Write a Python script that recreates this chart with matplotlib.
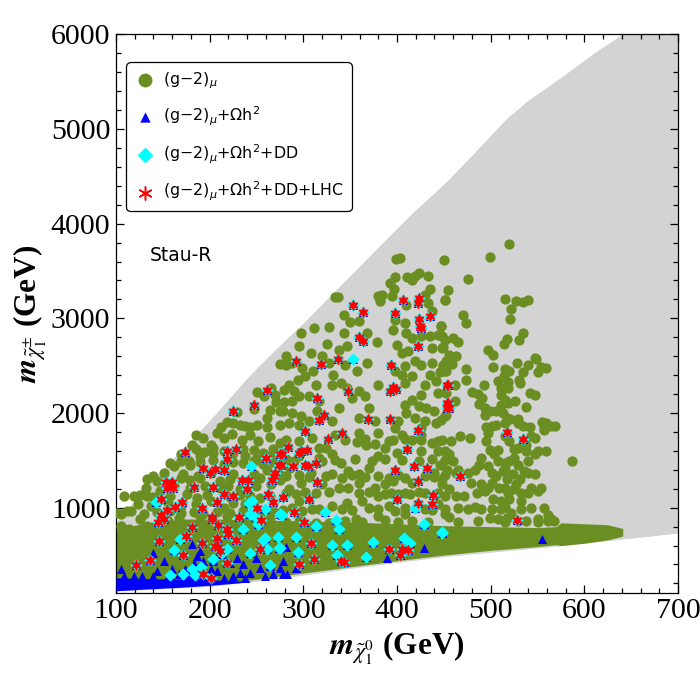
import numpy as np
import matplotlib
matplotlib.use("Agg")
import matplotlib.pyplot as plt
from matplotlib.ticker import MultipleLocator

# ── colours ───────────────────────────────────────────────
C_GRAY  = "#d3d3d3"
C_GREEN = "#6b8e23"
C_BLUE  = "#0000ff"
C_CYAN  = "#00ffff"
C_RED   = "#ff0000"

# ── scanned region (gray) : upper / lower envelope ────────
gray_up_x = [100, 133, 169, 201, 240, 268, 300, 363, 416, 451, 479, 515, 540, 576, 610, 640, 700]
gray_up_y = [850, 1230, 1600, 1930, 2370, 2650, 2950, 3580, 4110, 4425, 4707, 5093, 5304, 5550, 5800, 6000, 6000]
gray_lo_x = [100, 150, 200, 250, 300, 350, 400, 455, 520, 571, 619, 660, 700]
gray_lo_y = [125, 145, 170, 225, 290, 360, 425, 490, 550, 595, 648, 690, 735]

# ── dense (g-2) band along the lower edge ─────────────────
band_x  = [100, 130, 170, 210, 250, 300, 350, 400, 450, 500, 550, 570, 575, 600, 625, 641]
band_lo = [140, 155, 175, 205, 245, 310, 375, 440, 500, 550, 590, 610, 600, 625, 660, 700]
band_hi = [760, 840, 880, 880, 870, 860, 850, 830, 810, 800, 790, 800, 840, 830, 820, 780]

# dense Omega h^2 band at low mass
bband_x  = [100, 130, 170, 200, 230, 245]
bband_lo = [122, 140, 160, 180, 205, 225]
bband_hi = [260, 250, 245, 238, 228, 225]

# ── (g-2)_mu scattered points ─────────────────────────────
g_x = [399, 403, 450, 499, 520, 398, 411, 416, 419, 423, 433, 392, 397, 395, 384, 435, 430, 337,
       275, 265, 251, 258, 270, 271, 229, 247, 264, 275, 261, 218, 225, 232, 238, 243, 251, 261, 275, 212,
       380, 382, 410, 433, 451, 437, 447, 334, 343, 350, 359, 368, 343, 327, 311, 297, 295, 308, 325, 338,
       347, 379, 398, 396, 400, 409, 410, 416, 426, 435, 444, 448, 451, 437, 405, 412, 419, 409, 398, 426,
       437, 449, 435, 416, 405, 409, 430, 442, 451, 444, 426, 416, 409, 423, 431, 440, 410, 419, 430, 442,
       451, 401, 398, 426,
       281, 288, 299, 302, 294, 285, 279, 290, 295, 288, 279, 278, 288, 297, 306, 295, 285, 313, 306, 317,
       315, 331, 340, 347, 359, 366, 370, 377, 352, 338, 331, 359, 380, 357, 368, 345, 332, 327, 320, 281, 310,
       476, 454, 451, 470, 474, 447, 446, 448, 460, 465, 449, 456, 463, 452, 459, 449, 452, 446, 474, 474,
       462, 452, 462, 452, 447, 515, 527, 535, 540, 522, 521, 535, 517, 514, 530, 497, 503, 547, 528, 540,
       554, 550, 534, 503, 515, 520, 514, 508, 519, 530, 531, 511, 518, 493, 480, 486, 491, 488, 511, 515,
       511, 518, 526, 542, 547, 538, 494, 499, 506, 494, 513, 517, 521, 529, 529, 535, 555, 564, 557, 542,
       501, 506, 515, 495, 559, 548, 569, 559,
       181, 185, 193, 201, 208, 215, 224, 234, 243, 252, 264, 275, 169, 178, 190, 204, 222, 238, 250, 264,
       162, 151, 140, 172, 188, 201, 215, 225, 247, 261, 273, 132, 119, 123, 112, 105, 133, 147, 162, 179,
       195, 211, 220, 232, 250, 266, 137, 155, 169, 185, 201, 215, 225, 238, 268, 105, 114, 126, 133, 156,
       167, 190, 199, 218, 239, 248, 264, 275,
       357, 367, 377, 387, 396, 405, 380, 359, 334, 416, 426, 437, 448, 451, 426, 400, 380, 370, 359, 348,
       340, 331, 324, 320, 331, 320, 338, 348, 359, 377, 387, 396, 409, 416, 440, 448, 430, 414, 401, 380,
       363, 347, 331, 317, 370, 391, 430, 444, 451, 409, 380, 356, 327, 295, 285, 278, 286, 295, 281, 308,
       317, 297,
       467, 478, 458, 444, 455, 446, 497, 495, 499, 515, 520, 529, 538, 543, 547, 557, 538, 547, 559, 490,
       504, 508, 515, 520, 525, 529, 540, 587, 460, 453, 448, 463, 476, 483, 488, 497, 501, 506, 513, 517,
       524, 531, 540, 547, 479, 490, 501, 509, 515, 518, 527, 532, 540, 550, 554, 451, 463, 471, 485, 494,
       502, 511, 520, 532, 476, 490, 511, 522, 532, 456, 499, 508, 517, 538, 550, 568, 557, 561, 564]
g_y = [3625, 3636, 3614, 3646, 3790, 3438, 3435, 3407, 3449, 3484, 3442, 3372, 3309, 3241, 3248, 3312, 3249, 3227,
       2518, 2265, 2219, 2177, 2195, 2117, 2012, 2047, 2029, 2019, 1949, 1906, 1892, 1878, 1864, 1854, 1871, 1854, 1871, 1850,
       3231, 3185, 3143, 3161, 3196, 3073, 2915, 3224, 3031, 2961, 2968, 2845, 2845, 2908, 2897, 2845, 2704, 2634, 2729, 2669,
       2704, 2750, 2985, 2880, 2722, 2950, 2845, 2792, 2810, 2810, 2827, 2686, 2774, 2686, 2634, 2651, 2546, 2493, 2440, 2511,
       2528, 2511, 2405, 2388, 2405, 2318, 2300, 2335, 2440, 2212, 2195, 2142, 2089, 2072, 2054, 2019, 2001, 1949, 1913, 1896,
       1966, 1913, 1843, 1843,
       2511, 2528, 2476, 2388, 2353, 2300, 2247, 2230, 2177, 2124, 2117, 2019, 2001, 1966, 1913, 1878, 1896, 2300, 2177, 2124,
       2019, 2300, 2318, 2265, 2230, 2177, 2054, 1913, 2159, 2054, 1913, 1949, 2300, 2440, 2528, 2511, 2405, 2528, 2599, 2599, 2440,
       3414, 3294, 3192, 3031, 2947, 2915, 2827, 2810, 2792, 2750, 2694, 2616, 2599, 2546, 2518, 2493, 2440, 2433, 2462, 2346,
       2300, 2212, 2124, 1984, 1931, 3203, 3185, 3171, 3192, 3097, 2992, 2841, 2785, 2729, 2771, 2662, 2609, 2581, 2525, 2504,
       2483, 2433, 2433, 2486, 2462, 2448, 2388, 2342, 2328, 2353, 2318, 2265, 2265, 2293, 2223, 2202, 2159, 2096, 2195, 2142,
       2089, 2107, 2124, 2212, 2195, 2061, 2054, 2019, 2019, 1984, 2001, 1949, 1942, 1942, 1896, 1861, 1906, 1861, 1854, 1854,
       1861, 1878, 1896, 1854, 2479, 2574, 1860, 1896,
       1667, 1772, 1737, 1667, 1790, 1737, 1783, 1720, 1772, 1702, 1748, 1685, 1562, 1491, 1544, 1579, 1562, 1544, 1509, 1544,
       1439, 1368, 1333, 1351, 1333, 1368, 1403, 1351, 1351, 1403, 1368, 1210, 1122, 1035, 964, 929, 1122, 1175, 1228, 1210,
       1228, 1210, 1228, 1193, 1228, 1245, 1017, 1052, 1017, 1035, 1070, 999, 1052, 1035, 964, 806, 771, 876, 806, 859,
       894, 911, 806, 911, 859, 771, 876, 806,
       1691, 1667, 1677, 1632, 1720, 1772, 1790, 1790, 1772, 1720, 1772, 1685, 1720, 1597, 1597, 1579, 1544, 1421, 1351, 1386,
       1474, 1562, 1632, 1491, 1351, 1245, 1210, 1210, 1263, 1210, 1245, 1280, 1316, 1263, 1368, 1298, 1158, 1140, 1140, 1122,
       1070, 1052, 1017, 982, 999, 1017, 982, 1035, 929, 929, 911, 876, 841, 1070, 1193, 1333, 1421, 1544, 1667, 1368,
       1632, 1263,
       1755, 1737, 1702, 1597, 1562, 1456, 1790, 1702, 1614, 1755, 1702, 1632, 1667, 1755, 1737, 1825, 1597, 1562, 1597, 1526,
       1562, 1491, 1474, 1491, 1526, 1456, 1491, 1491, 1491, 1403, 1245, 1368, 1368, 1403, 1456, 1439, 1368, 1333, 1386, 1298,
       1351, 1298, 1368, 1351, 1263, 1245, 1263, 1210, 1210, 1158, 1245, 1158, 1158, 1175, 1210, 1122, 1122, 1122, 1158, 1175,
       1087, 1070, 1087, 1070, 989, 982, 982, 947, 982, 904, 894, 876, 894, 859, 876, 859, 999, 918, 876]

# extra (g-2)_mu points filling the crowded low-mass area
g2_x = [185, 194, 204, 215, 225, 236, 247, 257, 268,
        158, 169, 179, 190, 204, 215, 225, 236, 247, 257, 268, 277,
        133, 144, 169, 179, 190, 211, 222, 247, 254, 275,
        109, 126, 140, 158, 176, 186, 197, 222, 232, 243, 254, 264,
        101, 116, 130, 144, 158, 169, 183, 193, 208, 222, 236, 254, 264, 275,
        281, 295, 309, 345, 366, 391, 409, 426, 444,
        281, 290, 317, 334, 355, 373, 387, 405, 423, 437, 451,
        281, 295, 306, 324, 341, 352, 366, 380, 391, 401, 430, 440, 451,
        281, 292, 302, 313, 327, 359, 370, 387, 394, 409, 423, 444,
        278, 288, 299, 309, 341, 352, 380, 398, 409, 437, 451,
        281, 295, 313, 345, 363, 387, 401, 416, 433,
        508, 525, 550, 465, 515, 536, 455, 497, 525, 543, 465, 483, 501, 515, 543,
        465, 486, 515, 529, 550, 561]
g2_y = [1620, 1590, 1635, 1600, 1575, 1625, 1605, 1580, 1615,
        1470, 1490, 1455, 1480, 1500, 1465, 1485, 1470, 1495, 1460, 1480, 1470,
        1300, 1280, 1310, 1290, 1315, 1285, 1300, 1290, 1310, 1295,
        1120, 1135, 1110, 1125, 1140, 1105, 1130, 1115, 1135, 1120, 1100, 1125,
        945, 960, 935, 950, 965, 940, 955, 930, 950, 945, 960, 935, 955, 945,
        1720, 1700, 1735, 1710, 1725, 1700, 1730, 1715, 1705,
        1510, 1490, 1520, 1500, 1515, 1495, 1510, 1505, 1490, 1515, 1500,
        1330, 1345, 1320, 1335, 1310, 1340, 1325, 1335, 1315, 1345, 1330, 1320, 1340,
        1160, 1145, 1170, 1155, 1165, 1150, 1170, 1145, 1160, 1155, 1165, 1150,
        980, 995, 970, 985, 990, 975, 985, 970, 995, 980, 990,
        845, 860, 840, 855, 850, 865, 845, 855, 850,
        1610, 1620, 1600, 1400, 1410, 1390, 1200, 1210, 1195, 1205, 1000, 1010, 990, 1005, 995,
        850, 860, 845, 855, 850, 860]

# ── (g-2)+Omega h^2 only (blue) ───────────────────────────
b_x = [181, 140, 105, 128, 140, 151, 160, 156, 167, 174, 178, 183, 186, 190, 193, 201, 204, 208, 213, 222,
       229, 232, 236, 243, 250, 254, 259, 264, 268, 275, 144, 119, 193, 215, 225, 238, 109,
       282, 278, 278, 283, 292, 389, 429, 555]
b_y = [613, 525, 349, 279, 279, 437, 349, 279, 297, 349, 279, 420, 490, 543, 437, 349, 437, 332, 507, 420,
       472, 314, 402, 314, 472, 367, 279, 384, 297, 367, 332, 279, 279, 262, 279, 262, 279,
       588, 437, 304, 304, 360, 472, 571, 665]

# ── (g-2)+Omega h^2+DD only (cyan) ────────────────────────
c_x = [353, 244, 143, 245, 242, 259, 243, 248, 275, 252, 236, 259, 257, 273, 168, 162, 204, 213, 218, 243,
       261, 275, 264, 191, 181, 172, 184, 158,
       323, 335, 338, 314, 277, 292, 274, 294, 331, 347, 374, 336, 367, 408, 414, 419, 429, 448, 448]
c_y = [2571, 1439, 1059, 1070, 1045, 989, 929, 904, 929, 824, 778, 683, 658, 694, 672, 553, 455, 525, 560, 525,
       560, 578, 392, 378, 356, 297, 286, 286,
       954, 869, 771, 806, 918, 694, 578, 532, 602, 602, 641, 497, 483, 683, 630, 999, 824, 743, 736]

# ── (g-2)+Omega h^2+DD+LHC (red) ──────────────────────────
r_x = [225, 247, 261,
       353, 364, 359, 364, 337, 319, 292, 406, 424, 422, 398, 423, 435, 425, 426, 422, 394, 348, 393, 396, 399,
       315, 322, 317, 369, 393, 453, 453, 453,
       454, 454, 455, 517,
       174, 218, 228, 218, 260, 275, 274, 193, 200, 206, 215, 153, 160, 154, 161, 159, 183, 204, 215, 225,
       234, 241, 240, 269, 270, 267, 262, 268, 148, 170, 163, 192, 208, 154, 148, 151, 145, 202, 203, 231,
       251, 255, 181, 209, 218, 220, 175, 146, 208, 192, 228, 254, 206, 209, 211, 172, 136, 121, 219, 193, 201,
       284, 277, 295, 298, 304, 289, 302, 305, 314, 276, 326, 341, 302, 315, 278, 306, 290, 301, 398, 411, 418,
       432, 422, 438, 437, 422, 400, 308, 311, 295, 340, 343, 391, 405, 412, 403, 422,
       535, 467, 528]
r_y = [2019, 2086, 2244,
       3143, 3062, 2799, 2764, 2567, 2518, 2546, 3196, 3213, 3161, 3055, 2996, 3020, 2915, 2897, 2704, 2511, 2230, 2230, 2272, 2258,
       2159, 1984, 1931, 1942, 1942, 2300, 2107, 2054,
       2293, 2107, 2054, 1797,
       1586, 1597, 1621, 1516, 1527, 1562, 1456, 1421, 1368, 1411, 1396, 1273, 1273, 1210, 1210, 1245, 1221, 1221, 1147, 1122,
       1291, 1291, 1193, 1333, 1368, 1291, 1147, 1063, 1094, 1063, 1006, 992, 1059, 971, 918, 883, 852, 904, 883, 901,
       999, 866, 799, 813, 771, 718, 701, 648, 683, 630, 655, 567, 595, 588, 542, 497, 444, 392, 413, 297, 262,
       1643, 1562, 1579, 1597, 1607, 1439, 1446, 1439, 1467, 1456, 1727, 1790, 1808, 1270, 1115, 1087, 954, 848, 1396, 1621, 1439,
       1421, 1280, 1129, 1035, 1052, 1087, 630, 462, 402, 437, 427, 560, 560, 550, 497, 1818,
       1727, 1333, 869]

# ── plot ──────────────────────────────────────────────────
fig = plt.figure(figsize=(7, 7), dpi=100)
ax = fig.add_axes([0.1657, 0.153, 0.8029, 0.798])

ax.fill_between(gray_up_x, np.interp(gray_up_x, gray_lo_x, gray_lo_y), gray_up_y,
                color=C_GRAY, lw=0, zorder=1)
ax.fill_between(gray_lo_x, gray_lo_y, np.interp(gray_lo_x, gray_up_x, gray_up_y),
                color=C_GRAY, lw=0, zorder=1)
ax.fill_between(band_x, band_lo, band_hi, color=C_GREEN, lw=0, zorder=2)
ax.scatter(g_x + g2_x, g_y + g2_y, s=55, marker="o", color=C_GREEN, lw=0, zorder=3)

ax.fill_between(bband_x, bband_lo, bband_hi, color=C_BLUE, lw=0, zorder=4)
ax.scatter(b_x + c_x + r_x, b_y + c_y + r_y, s=42, marker="^", color=C_BLUE, lw=0, zorder=5)
ax.scatter(c_x + r_x, c_y + r_y, s=40, marker="D", color=C_CYAN, lw=0, zorder=6)
ax.scatter(r_x, r_y, s=55, marker=(6, 1, 0), color=C_RED, edgecolor=C_RED, lw=0.6, zorder=7)

# legend
h1 = ax.scatter([], [], s=100, marker="o", color=C_GREEN, lw=0)
h2 = ax.scatter([], [], s=55, marker="^", color=C_BLUE, lw=0)
h3 = ax.scatter([], [], s=65, marker="D", color=C_CYAN, lw=0)
h4 = ax.scatter([], [], s=90, marker=(6, 2, 0), color=C_RED, lw=1.1)
labels = [r"(g$-$2)$_\mu$",
          r"(g$-$2)$_\mu$+$\Omega$h$^2$",
          r"(g$-$2)$_\mu$+$\Omega$h$^2$+DD",
          r"(g$-$2)$_\mu$+$\Omega$h$^2$+DD+LHC"]
leg = ax.legend([h1, h2, h3, h4], labels, loc="upper left", bbox_to_anchor=(0.0177, 0.95),
                borderaxespad=0, fontsize=11.4, labelspacing=0.9, handletextpad=0.45,
                handlelength=1.4, borderpad=0.5, fancybox=True, framealpha=1, edgecolor="black")
leg.get_frame().set_linewidth(0.9)
leg.get_frame().set_boxstyle("round,pad=0,rounding_size=0.3")
for t in leg.get_texts():
    t.set_math_fontfamily("dejavusans")

ax.text(136, 3660, "Stau-R", fontsize=13.5, ha="left", va="center", zorder=8)

# axes
ax.set_xlim(100, 700)
ax.set_ylim(100, 6000)
ax.xaxis.set_major_locator(MultipleLocator(100))
ax.xaxis.set_minor_locator(MultipleLocator(20))
ax.yaxis.set_major_locator(MultipleLocator(1000))
ax.yaxis.set_minor_locator(MultipleLocator(200))
ax.tick_params(which="both", direction="in", top=True, right=True, width=0.9)
ax.tick_params(which="major", length=6)
ax.tick_params(which="minor", length=3.5)
ax.tick_params(axis="x", pad=4)
ax.tick_params(axis="y", pad=4)
for lab in ax.get_xticklabels() + ax.get_yticklabels():
    lab.set_fontfamily("Liberation Serif")
    lab.set_fontsize(21.5)
for sp in ax.spines.values():
    sp.set_linewidth(0.9)

ax.set_xlabel(r"$\mathbfit{m}_{\tilde{\chi}^{0}_{1}}$ (GeV)", fontsize=22.5,
              fontfamily="Liberation Serif", fontweight="bold", math_fontfamily="stix", labelpad=4)
ax.set_ylabel(r"$\mathbfit{m}_{\tilde{\chi}^{\pm}_{1}}$ (GeV)", fontsize=22.5,
              fontfamily="Liberation Serif", fontweight="bold", math_fontfamily="stix", labelpad=1)

fig.savefig("out.png", dpi=100)
